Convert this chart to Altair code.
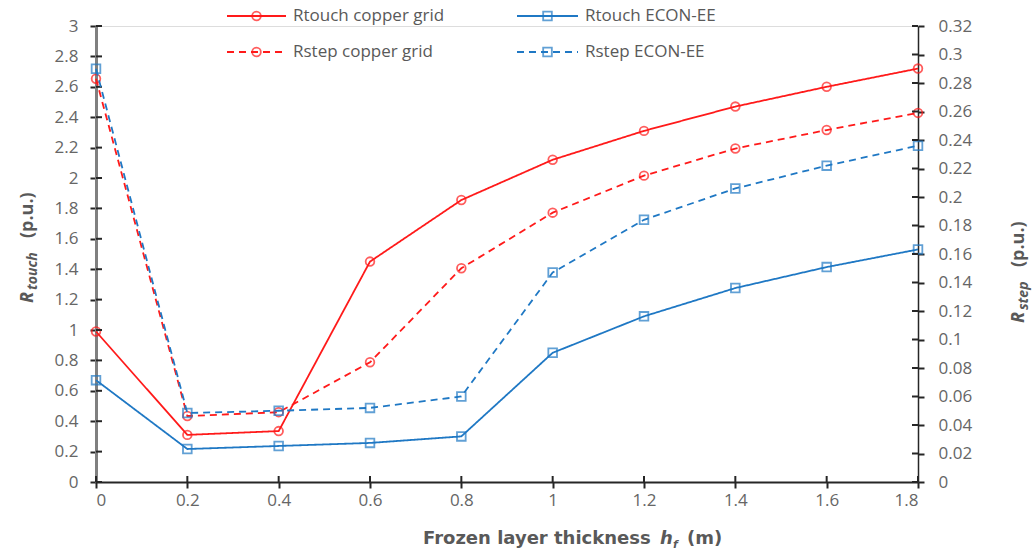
import altair as alt
import pandas as pd

# Frozen layer thickness h_f (m)
thickness = [0, 0.2, 0.4, 0.6, 0.8, 1.0, 1.2, 1.4, 1.6, 1.8]

# Touch resistance (left axis, p.u.)
rtouch_copper = [0.99, 0.31, 0.335, 1.45, 1.855, 2.12, 2.31, 2.47, 2.60, 2.72]
rtouch_econ = [0.67, 0.217, 0.237, 0.257, 0.30, 0.85, 1.09, 1.276, 1.414, 1.53]

# Step resistance (right axis, p.u.)
rstep_copper = [0.283, 0.0463, 0.049, 0.084, 0.150, 0.189, 0.215, 0.234, 0.247, 0.259]
rstep_econ = [0.290, 0.0484, 0.050, 0.052, 0.060, 0.147, 0.184, 0.206, 0.222, 0.236]

x_ticks = [0, 0.2, 0.4, 0.6, 0.8, 1.0, 1.2, 1.4, 1.6, 1.8]
touch_ticks = [round(0.2 * i, 1) for i in range(16)]
step_ticks = [round(0.02 * i, 2) for i in range(17)]

RED = "#ff1a1a"
BLUE = "#1f78c4"
LABEL = "#666666"
TITLE = "#595959"
FONT = "Open Sans"
TFONT = "DejaVu Sans"
W, H = 822, 456
DASH = [7, 5]
TICK = "#262626"

x_scale = alt.Scale(domain=[0, 1.8], nice=False)
touch_scale = alt.Scale(domain=[0, 3], nice=False)
step_scale = alt.Scale(domain=[0, 0.32], nice=False)

x_axis = alt.Axis(
    values=x_ticks, format=".1~f", title=None, grid=False,
    domainColor=TICK, domainWidth=2, tickColor=TICK, tickWidth=2,
    tickSize=6, labelFont=FONT, labelFontSize=17, labelColor=LABEL,
    labelPadding=4,
)
touch_axis = alt.Axis(
    orient="left", values=touch_ticks, format=".1~f", title=None, grid=False,
    domainColor="#808080", domainWidth=3, tickColor=TICK, tickWidth=2,
    tickSize=6, labelFont=FONT, labelFontSize=17, labelColor=LABEL,
    labelPadding=12,
)
step_axis = alt.Axis(
    orient="right", values=step_ticks, format=".2~f", title=None, grid=False,
    domainColor=TICK, domainWidth=1.5, tickColor=TICK, tickWidth=2,
    tickSize=6, labelFont=FONT, labelFontSize=17, labelColor=LABEL,
    labelPadding=14,
)


def series(values, color, dashed, shape, y_scale, y_axis):
    df = pd.DataFrame({"h": thickness, "r": values})
    base = alt.Chart(df).encode(
        x=alt.X("h:Q", scale=x_scale, axis=x_axis),
        y=alt.Y("r:Q", scale=y_scale, axis=y_axis),
    )
    line = base.mark_line(
        color=color, strokeWidth=1.8, strokeDash=DASH if dashed else [1, 0]
    )
    pts = base.mark_point(
        shape=shape, color=color, filled=False, size=75, strokeWidth=1.8
    )
    return [line, pts]


def inner_y_ticks(values, y_scale, y_axis, x0, x1):
    # tick marks on the inside of a vertical axis (cross-style ticks)
    df = pd.DataFrame({"r": values})
    return alt.Chart(df).mark_rule(color=TICK, strokeWidth=2).encode(
        y=alt.Y("r:Q", scale=y_scale, axis=y_axis),
        x=alt.value(x0), x2=alt.value(x1),
    )


touch_layer = alt.layer(
    *series(rtouch_copper, RED, False, "circle", touch_scale, touch_axis),
    *series(rtouch_econ, BLUE, False, "square", touch_scale, touch_axis),
    inner_y_ticks(touch_ticks, touch_scale, touch_axis, 0, 6),
)
step_layer = alt.layer(
    *series(rstep_copper, RED, True, "circle", step_scale, step_axis),
    *series(rstep_econ, BLUE, True, "square", step_scale, step_axis),
    inner_y_ticks(step_ticks, step_scale, step_axis, W - 6, W),
)

# inside tick marks on the x axis
x_inner = alt.Chart(pd.DataFrame({"h": x_ticks})).mark_rule(
    color=TICK, strokeWidth=2
).encode(
    x=alt.X("h:Q", scale=x_scale, axis=x_axis),
    y=alt.value(H - 6), y2=alt.value(H),
)

dummy = pd.DataFrame({"k": [0]})


def legend_item(x0, x1, y, color, dashed, shape, label):
    seg = alt.Chart(dummy).mark_rule(
        color=color, strokeWidth=1.8, strokeDash=DASH if dashed else [1, 0]
    ).encode(x=alt.value(x0), x2=alt.value(x1), y=alt.value(y))
    mark = alt.Chart(dummy).mark_point(
        shape=shape, color=color, filled=False, size=75, strokeWidth=1.8
    ).encode(x=alt.value((x0 + x1) / 2), y=alt.value(y))
    txt = alt.Chart(dummy).mark_text(
        align="left", baseline="middle", font=FONT, fontSize=17, color=TITLE
    ).encode(x=alt.value(x1 + 7), y=alt.value(y), text=alt.value(label))
    return [seg, mark, txt]


legend = [
    *legend_item(131, 190, -10, RED, False, "circle", "Rtouch copper grid"),
    *legend_item(421, 482, -10, BLUE, False, "square", "Rtouch ECON-EE"),
    *legend_item(131, 190, 26, RED, True, "circle", "Rstep copper grid"),
    *legend_item(421, 482, 26, BLUE, True, "square", "Rstep ECON-EE"),
]


def piece(text, x, y, size, dx=0, dy=0, angle=0, italic=False, font=FONT):
    return alt.Chart(dummy).mark_text(
        align="left", baseline="alphabetic", font=font, fontSize=size,
        fontWeight="bold", fontStyle="italic" if italic else "normal",
        color=TITLE, angle=angle, dx=dx, dy=dy,
    ).encode(x=alt.value(x), y=alt.value(y), text=alt.value(text))


titles = [
    # x-axis title with italic h and subscript f
    piece("Frozen layer thickness", 327, 518, 18, font=TFONT),
    piece("h", 327, 518, 18, dx=237, italic=True, font=TFONT),
    piece("f", 327, 518, 11, dx=250, dy=4, italic=True, font=TFONT),
    piece("(m)", 327, 518, 18, dx=264, font=TFONT),
    # left title: R_touch (p.u.)
    piece("R", -63, 277, 18, angle=270, italic=True),
    piece("touch", -63, 277, 14, dx=13, dy=4, angle=270, italic=True),
    piece("(p.u.)", -63, 277, 18, dx=65, angle=270),
    # right title: R_step (p.u.)
    piece("R", 928, 297, 18, angle=270, italic=True),
    piece("step", 928, 297, 14, dx=13, dy=4, angle=270, italic=True),
    piece("(p.u.)", 928, 297, 18, dx=56, angle=270),
]

chart = alt.layer(
    alt.layer(touch_layer, step_layer).resolve_scale(y="independent"),
    x_inner,
    *legend,
    *titles,
).properties(
    width=W, height=H,
    padding={"left": 96, "top": 26, "right": 116, "bottom": 75},
    autosize=alt.AutoSizeParams(type="none"),
).configure_view(stroke=None).configure(background="white")

chart.save("out.html", embed_options={"renderer": "svg", "actions": False})
